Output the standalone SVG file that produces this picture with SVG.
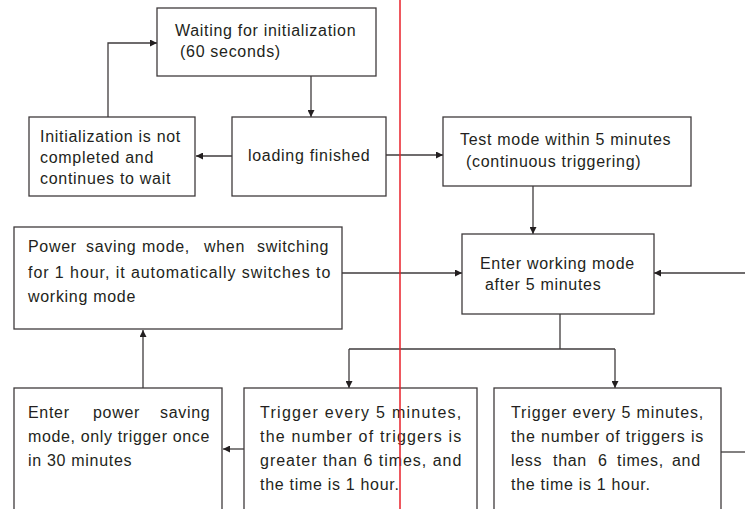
<svg xmlns="http://www.w3.org/2000/svg" width="745" height="509" viewBox="0 0 745 509">
<style>
.box{fill:#fff;stroke:#3f3b3c;stroke-width:1.3}
.c{fill:none;stroke:#3f3b3c;stroke-width:1.3}
text{font-family:"Liberation Sans",Arial,sans-serif;font-size:16px;fill:#231f20;letter-spacing:0.7px}
</style>
<defs>
<marker id="ah" viewBox="0 0 10 10" refX="10" refY="5" markerWidth="7" markerHeight="7" markerUnits="userSpaceOnUse" orient="auto">
<path d="M0,0 L10,5 L0,10 Z" fill="#231f20"/>
</marker>
</defs>
<rect width="745" height="509" fill="#fff"/>
<g id="connectors">
<path class="c" d="M311,76 V117" marker-end="url(#ah)"/>
<path class="c" d="M232,156 H196" marker-end="url(#ah)"/>
<path class="c" d="M108,117 V43 H157" marker-end="url(#ah)"/>
<path class="c" d="M386,155 H443" marker-end="url(#ah)"/>
<path class="c" d="M533,186 V234" marker-end="url(#ah)"/>
<path class="c" d="M342,273 H462" marker-end="url(#ah)"/>
<path class="c" d="M745,273 H654" marker-end="url(#ah)"/>
<path class="c" d="M560,314 V349"/>
<path class="c" d="M349,349 H615"/>
<path class="c" d="M349,349 V388" marker-end="url(#ah)"/>
<path class="c" d="M615,349 V388" marker-end="url(#ah)"/>
<path class="c" d="M721,452 H745"/>
<path class="c" d="M244,449 H223" marker-end="url(#ah)"/>
<path class="c" d="M143,388 V330" marker-end="url(#ah)"/>
</g>
<g id="n-wait">
<rect class="box" x="157" y="8" width="219" height="68"/>
<text x="175" y="36">Waiting for initialization</text>
<text x="180" y="57">(60 seconds)</text>
</g>
<g id="n-notcomplete">
<rect class="box" x="29" y="117" width="166" height="79"/>
<text x="40" y="142">Initialization is not</text>
<text x="40" y="163">completed and</text>
<text x="40" y="184">continues to wait</text>
</g>
<g id="n-loading">
<rect class="box" x="232" y="117" width="154" height="79"/>
<text x="248" y="161">loading finished</text>
</g>
<g id="n-test">
<rect class="box" x="443" y="117" width="248" height="69"/>
<text x="460" y="145">Test mode within 5 minutes</text>
<text x="466" y="167">(continuous triggering)</text>
</g>
<g id="n-working">
<rect class="box" x="462" y="234" width="192" height="80"/>
<text x="480" y="269">Enter working mode</text>
<text x="485" y="290">after 5 minutes</text>
</g>
<g id="n-power">
<rect class="box" x="14" y="227" width="328" height="102"/>
<text y="252"><tspan x="28">Power</tspan><tspan x="86">saving</tspan><tspan x="142">mode,</tspan><tspan x="204">when</tspan><tspan x="257">switching</tspan></text>
<text x="28" y="278" textLength="303" lengthAdjust="spacing">for 1 hour, it automatically switches to</text>
<text x="28" y="302">working mode</text>
</g>
<g id="n-enterpower">
<rect class="box" x="14" y="388" width="208" height="130"/>
<text y="418"><tspan x="28">Enter</tspan><tspan x="93">power</tspan><tspan x="160">saving</tspan></text>
<text x="28" y="442" textLength="182" lengthAdjust="spacing">mode, only trigger once</text>
<text x="28" y="466">in 30 minutes</text>
</g>
<g id="n-greater">
<rect class="box" x="244" y="388" width="233" height="130"/>
<text x="260" y="418" textLength="202" lengthAdjust="spacing">Trigger every 5 minutes,</text>
<text x="260" y="442" textLength="202" lengthAdjust="spacing">the number of triggers is</text>
<text x="260" y="466" textLength="202" lengthAdjust="spacing">greater than 6 times, and</text>
<text x="260" y="490">the time is 1 hour.</text>
</g>
<g id="n-less">
<rect class="box" x="494" y="388" width="227" height="130"/>
<text x="511" y="418" textLength="193" lengthAdjust="spacing">Trigger every 5 minutes,</text>
<text x="511" y="442" textLength="193" lengthAdjust="spacing">the number of triggers is</text>
<text y="466"><tspan x="511">less</tspan><tspan x="553">than</tspan><tspan x="598">6</tspan><tspan x="617">times,</tspan><tspan x="672">and</tspan></text>
<text x="511" y="490">the time is 1 hour.</text>
</g>
<line x1="400" y1="0" x2="400" y2="509" stroke="#e8202a" stroke-width="1.5"/>
</svg>
